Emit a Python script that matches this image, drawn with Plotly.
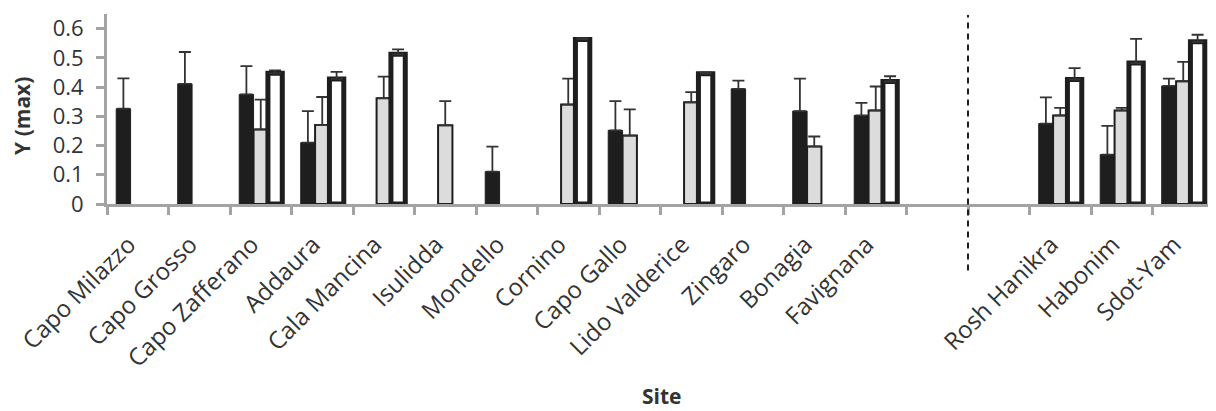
import plotly.graph_objects as go

sites = ["Capo Milazzo", "Capo Grosso", "Capo Zafferano", "Addaura", "Cala Mancina",
         "Isulidda", "Mondello", "Cornino", "Capo Gallo", "Lido Valderice", "Zingaro",
         "Bonagia", "Favignana", "", "", "Rosh Hanikra", "Habonim", "Sdot-Yam"]

black_vals = [0.326, 0.411, 0.375, 0.210, None, None, 0.111, None, 0.252, None, 0.394,
              0.318, 0.303, None, None, 0.275, 0.169, 0.404]
black_err = [0.104, 0.109, 0.097, 0.108, None, None, 0.085, None, 0.100, None, 0.028,
             0.111, 0.043, None, None, 0.090, 0.098, 0.025]

gray_vals = [None, None, 0.255, 0.270, 0.362, 0.269, None, 0.340, 0.234, 0.348, None,
             0.197, 0.320, None, None, 0.303, 0.320, 0.420]
gray_err = [None, None, 0.102, 0.096, 0.074, 0.083, None, 0.089, 0.090, 0.035, None,
            0.034, 0.082, None, None, 0.026, 0.009, 0.066]

white_vals = [None, None, 0.447, 0.428, 0.512, None, None, 0.563, None, 0.446, None,
              None, 0.419, None, None, 0.426, 0.482, 0.555]
white_err = [None, None, 0.010, 0.024, 0.017, None, None, 0.004, None, 0.004, None,
             None, 0.018, None, None, 0.039, 0.083, 0.024]

x = list(range(len(sites)))
DARK = "#1e1e1e"
AXIS = "#a3a3a3"
FONT = "Open Sans"


def err(vals):
    return dict(type="data", symmetric=False, array=vals,
                arrayminus=[0 if v is not None else None for v in vals],
                color="#333333", thickness=1.8, width=6)


fig = go.Figure()
fig.add_trace(go.Bar(x=x, y=black_vals, error_y=err(black_err),
                     marker=dict(color=DARK, line=dict(color=DARK, width=1)),
                     showlegend=False))
fig.add_trace(go.Bar(x=x, y=gray_vals, error_y=err(gray_err),
                     marker=dict(color="#dcdcdc", line=dict(color=DARK, width=2)),
                     showlegend=False))
fig.add_trace(go.Bar(x=x, y=white_vals, error_y=err(white_err),
                     marker=dict(color="#ffffff", line=dict(color=DARK, width=5)),
                     showlegend=False))

fig.add_shape(type="line", xref="x", yref="paper", x0=13.5, x1=13.5, y0=-0.35, y1=0.995,
              line=dict(color=DARK, width=2, dash="6px,5px"))

fig.add_annotation(text="<b>Y (max)</b>", xref="paper", yref="paper",
                   x=-0.0768, y=0.4635, xanchor="center", yanchor="middle",
                   textangle=-90, showarrow=False, font=dict(size=21, color="#333333"))
fig.add_annotation(text="<b>Site</b>", xref="paper", yref="paper",
                   x=0.501, y=-1.01, xanchor="center", yanchor="middle",
                   showarrow=False, font=dict(size=21, color="#333333"))

fig.update_layout(
    width=1216, height=411,
    margin=dict(l=99, r=10, t=4, b=215),
    barmode="group", bargap=0.30, bargroupgap=0,
    plot_bgcolor="white", paper_bgcolor="white",
    font=dict(family=FONT, color="#333333", size=22),
    xaxis=dict(range=[-0.5, 17.5], tickmode="array", tickvals=x, ticktext=sites,
               tickangle=-45, ticks="", showgrid=False, zeroline=False,
               showline=True, linecolor=AXIS, linewidth=3,
               tickfont=dict(size=24), ticklabelstandoff=14, ticklabelshift=-9,
               minor=dict(tickmode="array", tickvals=[i - 0.5 for i in range(len(sites) + 1)],
                          ticks="outside", ticklen=8, tickwidth=3, tickcolor=AXIS,
                          showgrid=False)),
    yaxis=dict(range=[0, 0.65], dtick=0.1, tick0=0, showgrid=False, zeroline=False,
               showline=True, linecolor=AXIS, linewidth=3,
               ticks="outside", ticklen=8, tickwidth=3, tickcolor=AXIS,
               tickfont=dict(size=22), ticklabelstandoff=8),
)

fig.write_html("out.html")
